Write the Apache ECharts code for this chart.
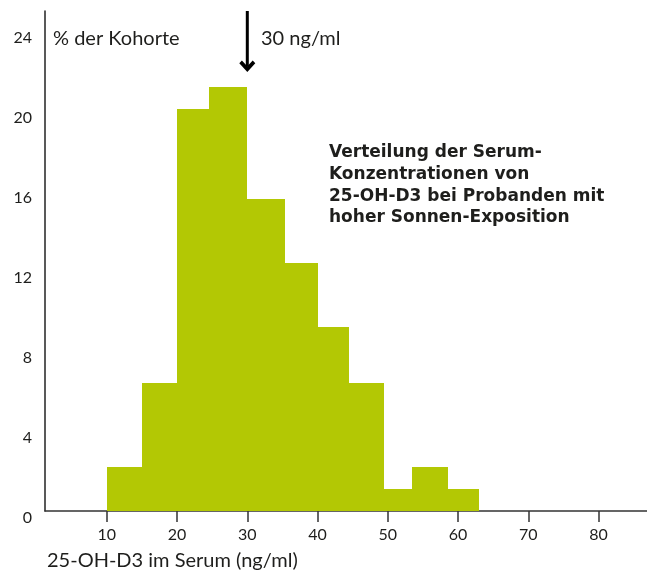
<!DOCTYPE html>
<html>
<head>
<meta charset="utf-8">
<script src="https://cdn.jsdelivr.net/npm/echarts@6/dist/echarts.min.js"></script>
<style>
  html, body { margin: 0; padding: 0; background: #fff; }
  #chart { width: 647px; height: 571px; }
</style>
</head>
<body>
<div id="chart"></div>
<script>
// bin edges (ng/ml) and share of the cohort (%) per bin
var binEdges = [10, 15, 20, 24.6, 30, 35.3, 40, 44.5, 49.5, 53.4, 58.6, 63];
var percent = [2.2, 6.4, 20.1, 21.2, 15.6, 12.4, 9.2, 6.4, 1.1, 2.2, 1.1];
var xTicks = [10, 20, 30, 40, 50, 60, 70, 80];
var yTicks = [0, 4, 8, 12, 16, 20, 24];
var arrowX = 30;

var barColor = '#b3c804';
var textColor = '#1e1e1c';
var font = 'Lato, "Open Sans", sans-serif';

var bins = [];
for (var i = 0; i < percent.length; i++) {
    bins.push([binEdges[i], binEdges[i + 1], percent[i]]);
}

// chevron head pointing down
var arrowHead = 'path://M0,3.5 L2.6,1 L8,6.4 L13.4,1 L16,3.5 L8,11.5 Z';

var option = {
    backgroundColor: '#fff',
    animation: false,
    grid: { left: 45, right: 0, top: 11, bottom: 60 },
    xAxis: {
        type: 'value',
        min: 1.2,
        max: 86.9,
        axisLine: { show: true, lineStyle: { color: '#333', width: 1.5 } },
        axisTick: {
            show: true, length: 11, customValues: xTicks,
            lineStyle: { color: '#333', width: 1.5 }
        },
        axisLabel: {
            customValues: xTicks, margin: 16,
            fontSize: 16, fontFamily: font, color: textColor
        },
        splitLine: { show: false }
    },
    yAxis: {
        type: 'value',
        min: 0,
        max: 25,
        axisLine: { show: true, lineStyle: { color: '#222', width: 1.5 } },
        axisTick: { show: false },
        axisLabel: {
            customValues: yTicks, margin: 13, verticalAlign: 'top', lineHeight: 14,
            fontSize: 16, fontFamily: font, color: textColor
        },
        splitLine: { show: false }
    },
    series: [
        {
            type: 'custom',
            data: bins,
            renderItem: function (params, api) {
                var p0 = api.coord([api.value(0), api.value(2)]);
                var p1 = api.coord([api.value(1), 0]);
                var x0 = Math.round(p0[0]), x1 = Math.round(p1[0]);
                var y0 = Math.round(p0[1]), y1 = Math.round(p1[1]);
                return {
                    type: 'rect',
                    shape: { x: x0, y: y0, width: x1 - x0, height: y1 - y0 },
                    style: { fill: barColor }
                };
            },
            z: 1
        },
        {
            // marker arrow at 30 ng/ml
            type: 'line',
            data: [[arrowX, 25], [arrowX, 22.24]],
            lineStyle: { color: '#000', width: 3 },
            symbol: function (v, p) { return p.dataIndex === 1 ? arrowHead : 'none'; },
            symbolSize: [16, 11.5],
            itemStyle: { color: '#000' },
            silent: true,
            z: 3
        }
    ],
    graphic: [
        {
            type: 'text', x: 53, y: 39,
            style: { text: '% der Kohorte', fill: textColor, font: '20px ' + font, verticalAlign: 'middle' }
        },
        {
            type: 'text', x: 261, y: 39,
            style: { text: '30 ng/ml', fill: textColor, font: '20px ' + font, verticalAlign: 'middle' }
        },
        {
            type: 'text', x: 47, y: 561,
            style: { text: '25-OH-D3 im Serum (ng/ml)', fill: textColor, font: '20px ' + font, verticalAlign: 'middle' }
        },
        {
            type: 'text', x: 329, y: 142,
            style: {
                text: 'Verteilung der Serum-\nKonzentrationen von\n25-OH-D3 bei Probanden mit\nhoher Sonnen-Exposition',
                fill: textColor, font: 'bold 17px "DejaVu Sans", sans-serif', lineHeight: 21.7, verticalAlign: 'top'
            }
        }
    ]
};

var myChart = echarts.init(document.getElementById('chart'));
myChart.setOption(option);
</script>
</body>
</html>
